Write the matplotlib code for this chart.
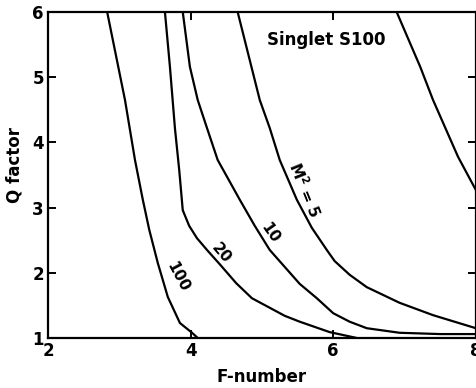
import numpy as np
import matplotlib
matplotlib.use("Agg")
from matplotlib import pyplot as plt

# curves, F-number vs Q factor, one per M^2 value
f_100 = [2.83, 3.08, 3.22, 3.33, 3.42, 3.54, 3.68, 3.85, 4.02, 4.10]
q_100 = [6.0, 4.65, 3.73, 3.12, 2.66, 2.15, 1.63, 1.23, 1.08, 1.0]

f_20 = [3.64, 3.71, 3.78, 3.84, 3.89, 3.98, 4.09, 4.23, 4.41, 4.64, 4.86, 5.32, 5.53, 5.95, 6.33]
q_20 = [6.0, 5.16, 4.22, 3.58, 2.96, 2.72, 2.53, 2.35, 2.13, 1.84, 1.61, 1.34, 1.25, 1.09, 1.0]

f_10 = [3.89, 3.99, 4.10, 4.23, 4.38, 4.69, 4.90, 5.11, 5.32, 5.53, 5.77, 6.00, 6.23, 6.47, 6.93, 7.50, 8.0]
q_10 = [6.0, 5.16, 4.65, 4.22, 3.73, 3.12, 2.72, 2.35, 2.09, 1.83, 1.61, 1.38, 1.25, 1.15, 1.08, 1.06, 1.06]

f_5 = [4.66, 4.97, 5.11, 5.25, 5.49, 5.70, 5.91, 6.02, 6.23, 6.47, 6.93, 7.40, 8.0]
q_5 = [6.0, 4.65, 4.22, 3.73, 3.12, 2.69, 2.35, 2.18, 1.97, 1.78, 1.54, 1.35, 1.15]

f_far = [6.89, 7.22, 7.40, 7.75, 8.0]
q_far = [6.0, 5.16, 4.65, 3.78, 3.27]

x_ticks = [2, 4, 6, 8]
y_ticks = [1, 2, 3, 4, 5, 6]

fig = plt.figure(figsize=(4.77, 3.88), dpi=100)
ax = fig.add_axes([0.1006, 0.1289, 0.897, 0.840])

for f, q in [(f_100, q_100), (f_20, q_20), (f_10, q_10), (f_5, q_5), (f_far, q_far)]:
    ax.plot(f, q, color='black', lw=1.6, solid_capstyle='butt')

ax.set_xlim(2, 8)
ax.set_ylim(1, 6)
ax.set_xticks(x_ticks)
ax.set_yticks(y_ticks)
ax.tick_params(direction='in', length=6, width=1.4, labelsize=12,
               top=True, right=True)
ax.tick_params(axis='x', pad=3)
ax.tick_params(axis='y', pad=3)
for lab in ax.get_xticklabels() + ax.get_yticklabels():
    lab.set_fontweight('bold')
for s in ax.spines.values():
    s.set_linewidth(1.6)

ax.set_xlabel('F-number', fontsize=12, fontweight='bold', labelpad=6)
ax.set_ylabel('Q factor', fontsize=12, fontweight='bold')
ax.yaxis.set_label_coords(-0.058, 0.53)

ax.text(0.65, 0.915, 'Singlet S100', transform=ax.transAxes, fontsize=12,
        fontweight='bold', ha='center', va='center')
ax.text(3.82, 1.94, '100', rotation=-62, fontsize=11, fontweight='bold', ha='center', va='center')
ax.text(4.43, 2.30, '20', rotation=-50, fontsize=11, fontweight='bold', ha='center', va='center')
ax.text(5.11, 2.61, '10', rotation=-55, fontsize=11, fontweight='bold', ha='center', va='center')
ax.text(5.60, 3.27, r'M$^\mathbf{2}$ = 5', rotation=-68, fontsize=11, fontweight='bold',
        ha='center', va='center')

fig.savefig('out.png', dpi=100)
